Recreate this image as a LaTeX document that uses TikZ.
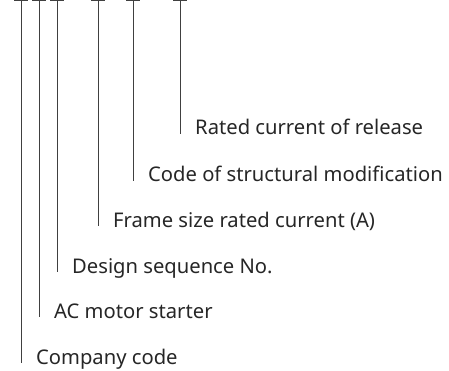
\documentclass[tikz,border=0pt]{standalone}
\usepackage{fontspec}
\setmainfont{Noto Sans}
\usetikzlibrary{positioning}
\tikzset{
  codelbl/.style={anchor=base west,inner sep=0pt,text=black!85,font=\fontsize{20.2}{24}\selectfont},
  stick/.style={draw=black!75,line width=0.9pt},
}
\begin{document}
\begin{tikzpicture}[x=1pt,y=-1pt]
				%%%%% START %%%%%
				\def\bw{7}
				\def\gap{15}
				\def\drop{1}
				\useasboundingbox (0,0) rectangle (449,371);
				
				% top marks of the code
				\coordinate (t1) at (21,0.5);
				\coordinate (t2) at (39,0.5);
				\coordinate (t3) at (57,0.5);
				\coordinate (t4) at (98,0.5);
				\coordinate (t5) at (133,0.5);
				\coordinate (t6) at (180,0.5);
				
				% labels, on their base lines
				\node[codelbl] (l6) at (180+\gap,135) {Rated current of release};
				\node[codelbl] (l5) at (133+\gap,182) {Code of structural modification};
				\node[codelbl] (l4) at (98+\gap,227) {Frame size rated current (A)};
				\node[codelbl] (l3) at (57+\gap,273) {Design sequence No.};
				\node[codelbl] (l2) at (39+\gap,318) {AC motor starter};
				\node[codelbl] (l1) at (21+\gap,364) {Company code};
				
				\draw[stick] ([xshift=-\bw]t1) -- ([xshift=\bw]t1);
				\draw[stick] ([xshift=-\bw]t2) -- ([xshift=\bw]t2);
				\draw[stick] ([xshift=-\bw]t3) -- ([xshift=\bw]t3);
				\draw[stick] ([xshift=-\bw]t4) -- ([xshift=\bw]t4);
				\draw[stick] ([xshift=-\bw]t5) -- ([xshift=\bw]t5);
				\draw[stick] ([xshift=-\bw]t6) -- ([xshift=\bw]t6);
				
				\draw[stick] (t1) -- ([yshift=\drop]t1 |- l1.base west);
				\draw[stick] (t2) -- ([yshift=\drop]t2 |- l2.base west);
				\draw[stick] (t3) -- ([yshift=\drop]t3 |- l3.base west);
				\draw[stick] (t4) -- ([yshift=\drop]t4 |- l4.base west);
				\draw[stick] (t5) -- ([yshift=\drop]t5 |- l5.base west);
				\draw[stick] (t6) -- ([yshift=\drop]t6 |- l6.base west);
				%%%%% END %%%%%
\end{tikzpicture}
\end{document}
